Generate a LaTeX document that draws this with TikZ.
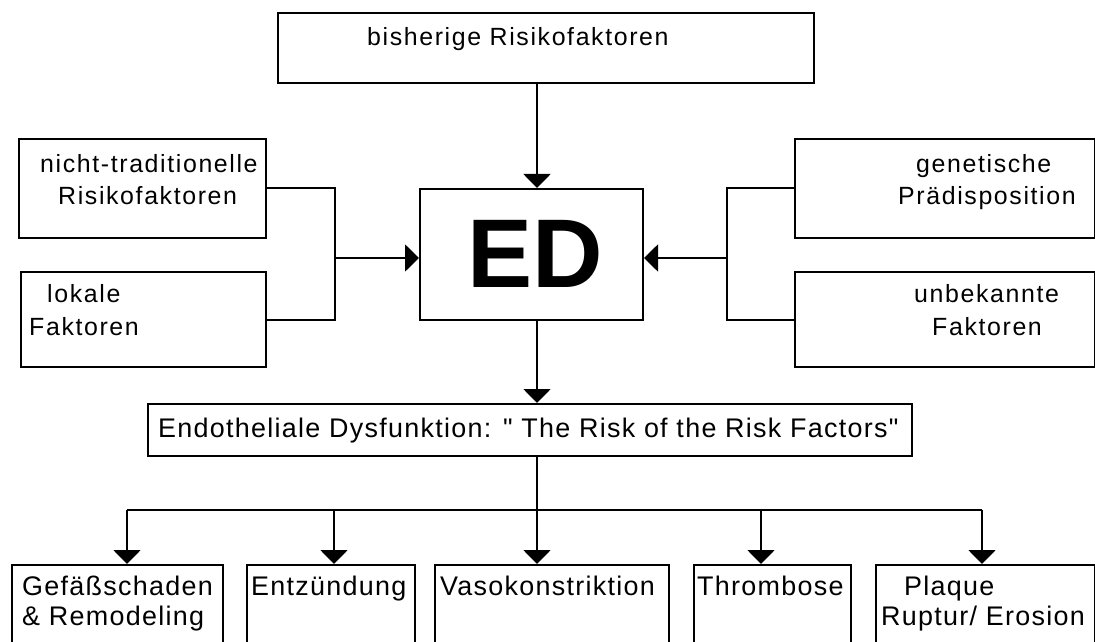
\documentclass[tikz,border=0pt]{standalone}
\usepackage{fontspec}
\setmainfont{Liberation Sans}
\newfontfamily\upfont[LetterSpace=6.5]{Liberation Sans}
\newfontfamily\lowfont[LetterSpace=4.8]{Liberation Sans}
\usetikzlibrary{arrows.meta}
\begin{document}
\begin{tikzpicture}[x=1bp,y=-1bp,
  box/.style={draw, line width=2bp, inner sep=0pt, anchor=north west},
  lbl/.style={anchor=base west, inner sep=0pt},
  up/.style={lbl, font=\upfont\fontsize{25}{28}\selectfont},
  low/.style={lbl, font=\lowfont\fontsize{27}{30}\selectfont},
  conn/.style={line width=2bp},
  arr/.style={conn, -{Triangle[length=14bp,width=27bp]}}]
\useasboundingbox (0,0) rectangle (1095,642);
\clip (0,0) rectangle (1095,642);
\fill[white] (0,0) rectangle (1095,642);

% boxes
\node[box, minimum width=536bp, minimum height=70bp] (top) at (277,12) {};
\node[box, minimum width=247bp, minimum height=99bp] (nt) at (18,138) {};
\node[box, minimum width=245bp, minimum height=95bp] (lok) at (20,271) {};
\node[box, minimum width=300bp, minimum height=99bp] (gen) at (794,138) {};
\node[box, minimum width=300bp, minimum height=95bp] (unb) at (794,271) {};
\node[box, minimum width=223bp, minimum height=131bp] (ed) at (419,188) {};
\node[box, minimum width=764bp, minimum height=52bp] (endo) at (147,403) {};
\node[box, minimum width=211bp, minimum height=140bp] (b1) at (11,564) {};
\node[box, minimum width=168bp, minimum height=140bp] (b2) at (246,564) {};
\node[box, minimum width=234bp, minimum height=140bp] (b3) at (434,564) {};
\node[box, minimum width=157bp, minimum height=140bp] (b4) at (693,564) {};
\node[box, minimum width=219bp, minimum height=140bp] (b5) at (875,564) {};

% texts
\node[up] (t1) at (367,46) {bisherige Risikofaktoren};
\node[up] (t2) at (40,173) {nicht-traditionelle};
\node[up] (t3) at (58,205) {Risikofaktoren};
\node[up] (t4) at (47,303) {lokale};
\node[up] (t5) at (29,335) {Faktoren};
\node[up] (t6) at (916,173) {genetische};
\node[up] (t7) at (898,205) {Prädisposition};
\node[up] (t8) at (914,303) {unbekannte};
\node[up] (t9) at (932,335) {Faktoren};
\node[anchor=base, inner sep=0pt, font=\fontsize{98}{98}\selectfont\bfseries] (edt) at (535.5,288) {ED};
\node[low] (t10) at (158,437) {Endotheliale Dysfunktion: " The Risk of the Risk Factors"};
\node[low] (t11) at (22,595) {Gefäßschaden};
\node[low] (t12) at (22,625) {\& Remodeling};
\node[low] (t13) at (251,595) {Entzündung};
\node[low] (t14) at (440,595) {Vasokonstriktion};
\node[low] (t15) at (697,595) {Thrombose};
\node[low] (t16) at (904,595) {Plaque};
\node[low] (t17) at (881,625) {Ruptur/ Erosion};

% connector coordinates
\coordinate (xc) at (537,0);
\coordinate (jl) at (335,258);
\coordinate (jr) at (727,258);
\coordinate (hb) at (537,510);
\coordinate (x1) at (127,510);
\coordinate (x2) at (334,510);
\coordinate (x4) at (761,510);
\coordinate (x5) at (982,510);

% connectors
\draw[arr] (top.south -| xc) -- (ed.north -| xc);
\draw[conn] (nt.east) -| (jl);
\draw[conn] (lok.east) -| (jl);
\draw[arr] (jl) -- (ed.west |- jl);
\draw[conn] (gen.west) -| (jr);
\draw[conn] (unb.west) -| (jr);
\draw[arr] (jr) -- (ed.east |- jr);
\draw[arr] (ed.south -| xc) -- (endo.north -| xc);
\draw[conn] (endo.south -| xc) -- (hb);
\draw[conn] (x1) -- (x5);
\draw[arr] (x1) -- (b1.north -| x1);
\draw[arr] (x2) -- (b2.north -| x2);
\draw[arr] (hb) -- (b3.north -| hb);
\draw[arr] (x4) -- (b4.north -| x4);
\draw[arr] (x5) -- (b5.north -| x5);
\end{tikzpicture}
\end{document}
